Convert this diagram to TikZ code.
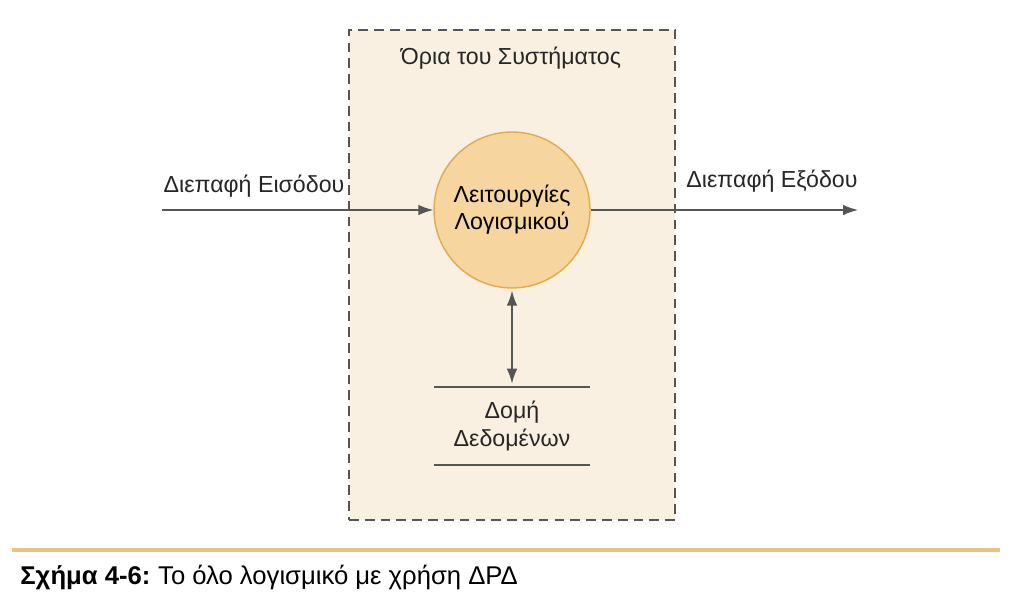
\documentclass[tikz,border=0pt]{standalone}
\usepackage{fontspec}
\setmainfont{Liberation Sans}
\usepackage{tikz}
\usetikzlibrary{arrows.meta, calc, positioning}

\definecolor{sysfill}{RGB}{250,240,225}
\definecolor{procfill}{RGB}{246,213,158}
\definecolor{procline}{RGB}{225,170,75}
\definecolor{flowgray}{RGB}{85,85,85}
\definecolor{rulegold}{RGB}{232,196,128}

\begin{document}
\begin{tikzpicture}[x=0.02cm, y=-0.02cm, font=\fontsize{13.2}{15.5}\selectfont]
    \tikzstyle{boundary} = [rectangle, draw=flowgray, fill=sysfill, line width=0.8pt,
                            dash pattern=on 5.5pt off 3.5pt,
                            minimum width=6.52cm, minimum height=9.8cm]
    \tikzstyle{process} = [circle, draw=procline, fill=procfill, line width=0.8pt,
                           minimum size=3.12cm, align=center]
    \tikzstyle{store} = [rectangle, minimum width=3.12cm, minimum height=1.56cm, align=center]
    \tikzstyle{flow} = [-{Latex[length=8.5pt,width=6pt]}, draw=flowgray, line width=0.85pt]
    \tikzstyle{label} = [text=black!85]

    \useasboundingbox (0,0) rectangle (1024,603);

    \node (sys)   [boundary] at (512,275) {};
    \node (title) [label] at (511,58) {Όρια του Συστήματος};
    \node (proc)  [process] at (512,210) {Λειτουργίες\\Λογισμικού};
    \node (data)  [store, label] at (512,426) {Δομή\\Δεδομένων};
    \draw [flowgray, line width=1.1pt] (data.north west) -- (data.north east);
    \draw [flowgray, line width=1.1pt] (data.south west) -- (data.south east);

    \coordinate (src) at (162,210);
    \coordinate (snk) at (858,210);
    \node (inlbl)  [label, anchor=base] at (254,192) {Διεπαφή Εισόδου};
    \node (outlbl) [label, anchor=base] at (772,187) {Διεπαφή Εξόδου};

    \draw [flow] (src) -- (proc.west);
    \draw [flow] (proc.east) -- (snk);
    \draw [flow, {Latex[length=8.5pt,width=6pt]}-{Latex[length=8.5pt,width=6pt]}]
          ($(proc.south)+(0,2)$) -- ($(data.north)+(0,-3)$);

    % caption
    \draw [rulegold, line width=2.2pt] (12,550) -- (1000,550);
    \node (cap) [anchor=base west, inner sep=0pt, font=\fontsize{14.6}{17}\selectfont]
          at (20,584) {\textbf{Σχήμα 4-6:}\hspace{-1pt} Το όλο λογισμικό με χρήση ΔΡΔ};
\end{tikzpicture}
\end{document}
